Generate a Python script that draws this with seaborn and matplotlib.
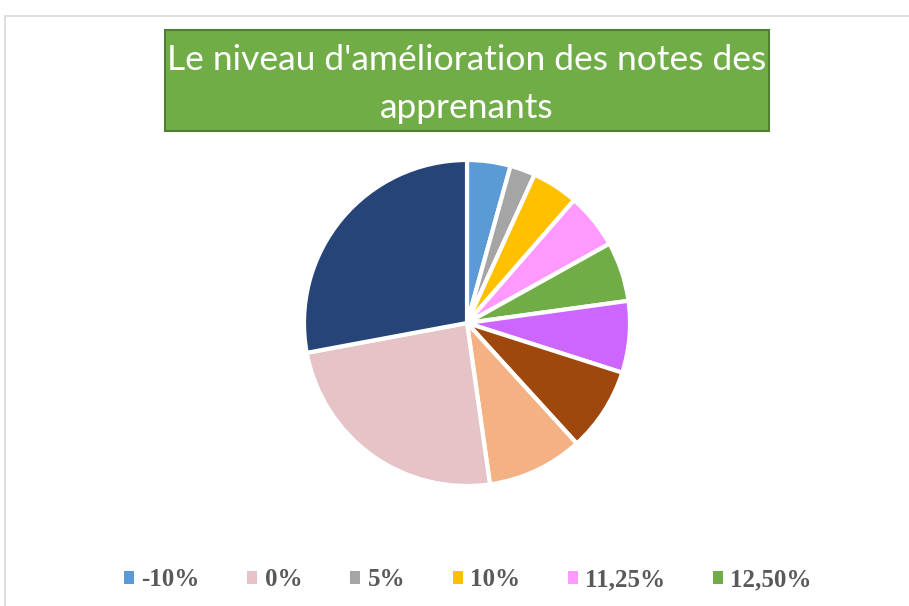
import matplotlib
matplotlib.use("Agg")
import matplotlib.pyplot as plt
from matplotlib.patches import Rectangle, Patch
import seaborn as sns

sns.set_theme(style="white")

# slices in clockwise order from 12 o'clock
categories = ["-10%", "0%", "5%", "10%", "11,25%", "12,50%",
              "15%", "17,50%", "20%", "50%", "60%"]
shares = [4.3, 0.0, 2.5, 4.6, 5.5, 5.9, 7.1, 8.3, 9.5, 24.3, 27.9]
colors = ["#5B9BD5", "#E6C3C7", "#A5A5A5", "#FFC000", "#FF99FF", "#70AD47",
          "#CC66FF", "#9E480E", "#F4B183", "#E6C3C7", "#264478"]
legend_shown = 6  # excel only had room for the first six entries

TITLE = "Le niveau d'amélioration des notes des\napprenants"

W, H = 909, 606
fig = plt.figure(figsize=(W / 100, H / 100), dpi=100)

# outer chart frame (cut off on the right / bottom in the original)
fig.patches.append(Rectangle((5 / W, -0.1), 1.2, 1 - 16 / H + 0.1,
                             transform=fig.transFigure, fill=False,
                             edgecolor="#D9D9D9", lw=1.2))

cx, cy, r = 467, 323, 163
ax = fig.add_axes([(cx - r) / W, (H - cy - r) / H, 2 * r / W, 2 * r / H])
vals = [v for v in shares if v > 0]
cols = [c for v, c in zip(shares, colors) if v > 0]
ax.pie(vals, colors=cols, startangle=90, counterclock=False, radius=1,
       wedgeprops=dict(edgecolor="white", linewidth=3))
ax.set_xlim(-1.0, 1.0)
ax.set_ylim(-1.0, 1.0)
ax.set_aspect("equal")
ax.axis("off")

# green title box
bx0, bx1, by0, by1 = 165, 769, 30, 131
fig.patches.append(Rectangle((bx0 / W, 1 - by1 / H), (bx1 - bx0) / W, (by1 - by0) / H,
                             transform=fig.transFigure, facecolor="#70AD47",
                             edgecolor="#507E32", lw=1.5))
fig.text((bx0 + bx1) / 2 / W, 1 - 84 / H, TITLE, ha="center", va="center",
         color="white", fontsize=25.5, family="Lato", linespacing=1.62)

handles = [Patch(facecolor=c, edgecolor="none") for c in colors[:legend_shown]]
leg = fig.legend(handles, categories[:legend_shown], ncol=legend_shown,
                 loc="center", bbox_to_anchor=(468 / W, 1 - 580 / H),
                 frameon=False, handlelength=0.4, handleheight=0.4,
                 handletextpad=0.3, columnspacing=1.9,
                 prop=dict(family="Liberation Serif", weight="bold", size=18))
for t in leg.get_texts():
    t.set_color("#595959")

fig.savefig("out.png", dpi=100, facecolor="white")
